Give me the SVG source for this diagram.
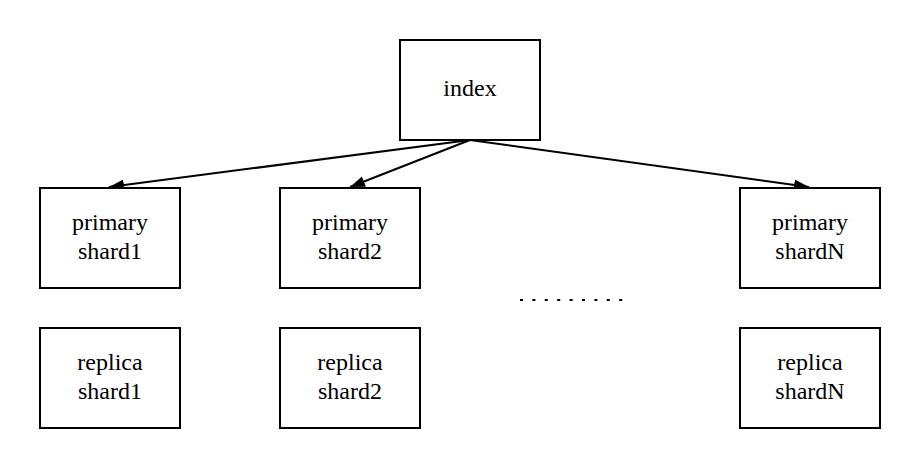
<svg xmlns="http://www.w3.org/2000/svg" width="920" height="469" viewBox="0 0 920 469">
<style>
.box{fill:#fff;stroke:#000;stroke-width:2}
.lbl{font-family:"Liberation Serif","Times New Roman",serif;font-size:24px;fill:#000;text-anchor:middle}
.edge{stroke:#000;stroke-width:2;fill:none}
</style>
<defs>
<marker id="arr" markerUnits="userSpaceOnUse" markerWidth="16" markerHeight="12" refX="15" refY="6" orient="auto">
<path d="M0,0.5 L15,6 L0,11.5 z" fill="#000"/>
</marker>
</defs>
<rect width="920" height="469" fill="#fff"/>
<g id="connectors">
<line class="edge" x1="470" y1="140" x2="109" y2="187" marker-end="url(#arr)"/>
<line class="edge" x1="470" y1="140" x2="350" y2="187" marker-end="url(#arr)"/>
<line class="edge" x1="470" y1="140" x2="809" y2="187" marker-end="url(#arr)"/>
</g>
<g id="index">
<rect class="box" x="400" y="40" width="140" height="100"/>
<text class="lbl" x="470" y="96">index</text>
</g>
<g id="primary1">
<rect class="box" x="40" y="188" width="140" height="100"/>
<text class="lbl" x="110" y="230">primary</text>
<text class="lbl" x="110" y="259">shard1</text>
</g>
<g id="primary2">
<rect class="box" x="280" y="188" width="140" height="100"/>
<text class="lbl" x="350" y="230">primary</text>
<text class="lbl" x="350" y="259">shard2</text>
</g>
<g id="primaryN">
<rect class="box" x="740" y="188" width="140" height="100"/>
<text class="lbl" x="810" y="230">primary</text>
<text class="lbl" x="810" y="259">shardN</text>
</g>
<g id="replica1">
<rect class="box" x="40" y="328" width="140" height="100"/>
<text class="lbl" x="110" y="370">replica</text>
<text class="lbl" x="110" y="399">shard1</text>
</g>
<g id="replica2">
<rect class="box" x="280" y="328" width="140" height="100"/>
<text class="lbl" x="350" y="370">replica</text>
<text class="lbl" x="350" y="399">shard2</text>
</g>
<g id="replicaN">
<rect class="box" x="740" y="328" width="140" height="100"/>
<text class="lbl" x="810" y="370">replica</text>
<text class="lbl" x="810" y="399">shardN</text>
</g>
<g id="ellipsis">
<line x1="520" y1="300" x2="623" y2="300" stroke="#000" stroke-width="2" stroke-dasharray="3 9.4"/>
</g>
</svg>
